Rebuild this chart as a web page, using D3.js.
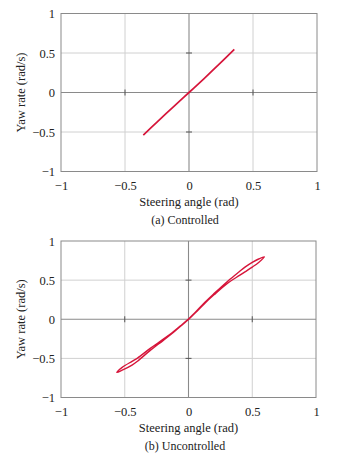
<!DOCTYPE html>
<html><head><meta charset="utf-8">
<script src="https://cdn.jsdelivr.net/npm/d3@7"></script>
<style>body{margin:0;background:#fff;} svg{display:block;}</style>
</head><body>
<svg id="c" width="342" height="461"></svg>
<script>
const tickValues = [-1, -0.5, 0, 0.5, 1];
const xLabel = "Steering angle (rad)";
const yLabel = "Yaw rate (rad/s)";
const captions = ["(a) Controlled", "(b) Uncontrolled"];

// (a) Controlled: steering angle vs yaw rate
const ctrlSteer = [-0.357, -0.25, -0.12, 0, 0.12, 0.25, 0.354];
const ctrlYaw   = [-0.54, -0.375, -0.178, 0, 0.180, 0.38, 0.545];

// (b) Uncontrolled: loop (going up, then coming back)
const uncSteer = [-0.562,-0.52,-0.443,-0.40,-0.30,-0.20,-0.129,-0.05,0,0.05,0.129,0.20,0.312,0.40,0.443,0.50,0.55,0.595,
                  0.55,0.50,0.443,0.40,0.312,0.20,0.129,0.05,0,-0.05,-0.129,-0.20,-0.30,-0.40,-0.443,-0.52];
const uncYaw   = [-0.680,-0.651,-0.586,-0.536,-0.398,-0.273,-0.183,-0.072,-0.004,0.076,0.206,0.312,0.467,0.560,0.606,0.667,0.726,0.797,
                  0.770,0.727,0.666,0.610,0.493,0.328,0.218,0.082,0.004,-0.066,-0.173,-0.257,-0.372,-0.496,-0.538,-0.615];

const svg = d3.select("#c");
const FONT = "'Liberation Serif', 'Times New Roman', serif";
const RED = "#d6153a";
const FS = 12.5;

function panel(cfg) {
  const x = d3.scaleLinear().domain([-1, 1]).range([cfg.left, cfg.right]);
  const y = d3.scaleLinear().domain([-1, 1]).range([cfg.bottom, cfg.top]);
  const g = svg.append("g");
  g.selectAll(".gx").data([-0.5, 0.5]).enter().append("line")
    .attr("x1", d => x(d)).attr("x2", d => x(d)).attr("y1", y(-1)).attr("y2", y(1))
    .attr("stroke", "#d0d0d0").attr("stroke-width", 1);
  g.selectAll(".gy").data([-0.5, 0.5]).enter().append("line")
    .attr("y1", d => y(d)).attr("y2", d => y(d)).attr("x1", x(-1)).attr("x2", x(1))
    .attr("stroke", "#d0d0d0").attr("stroke-width", 1);
  g.append("line").attr("x1", x(0)).attr("x2", x(0)).attr("y1", y(-1)).attr("y2", y(1))
    .attr("stroke", "#8a8a8a").attr("stroke-width", 1.1);
  g.append("line").attr("y1", y(0)).attr("y2", y(0)).attr("x1", x(-1)).attr("x2", x(1))
    .attr("stroke", "#8a8a8a").attr("stroke-width", 1.1);
  [-0.5, 0.5].forEach(v => {
    g.append("line").attr("x1", x(0) - 3).attr("x2", x(0) + 3).attr("y1", y(v)).attr("y2", y(v))
      .attr("stroke", "#555").attr("stroke-width", 1);
    g.append("line").attr("y1", y(0) - 3).attr("y2", y(0) + 3).attr("x1", x(v)).attr("x2", x(v))
      .attr("stroke", "#555").attr("stroke-width", 1);
  });
  g.append("rect").attr("x", x(-1)).attr("y", y(1)).attr("width", x(1) - x(-1)).attr("height", y(-1) - y(1))
    .attr("fill", "none").attr("stroke", "#8a8a8a").attr("stroke-width", 1);
  const fmt = d => d3.format("")(d).replace("-", "\u2212");
  const xa = g.append("g").attr("transform", `translate(0,${y(-1)})`)
    .call(d3.axisBottom(x).tickValues(tickValues).tickSize(0).tickPadding(cfg.pad).tickFormat(fmt));
  const ya = g.append("g").attr("transform", `translate(${x(-1)},0)`)
    .call(d3.axisLeft(y).tickValues(tickValues).tickSize(0).tickPadding(6).tickFormat(fmt));
  [xa, ya].forEach(a => {
    a.select(".domain").remove();
    a.selectAll("text").attr("font-family", FONT).attr("font-size", FS).attr("fill", "#222");
  });
  g.append("text").attr("x", (x(-1) + x(1)) / 2).attr("y", cfg.xLabelY)
    .attr("text-anchor", "middle").attr("font-family", FONT).attr("font-size", FS).attr("fill", "#222")
    .text(xLabel);
  g.append("text").attr("transform", `translate(21,${y(0)}) rotate(-90)`)
    .attr("text-anchor", "middle").attr("dy", "0.35em").attr("font-family", FONT).attr("font-size", FS).attr("fill", "#222")
    .text(yLabel);
  g.append("text").attr("x", cfg.capX).attr("y", cfg.capY)
    .attr("text-anchor", "middle").attr("font-family", FONT).attr("font-size", 12).attr("fill", "#222")
    .text(cfg.caption);
  const pts = cfg.xs.map((v, i) => [v, cfg.ys[i]]);
  const line = d3.line().x(d => x(d[0])).y(d => y(d[1]))
    .curve(cfg.closed ? d3.curveCatmullRomClosed : d3.curveCatmullRom);
  g.append("path").attr("d", line(pts)).attr("fill", "none").attr("stroke", RED)
    .attr("stroke-width", cfg.sw).attr("stroke-linejoin", "round");
}

panel({left: 61, right: 317, top: 13.5, bottom: 171.5, pad: 10, xLabelY: 205.5, capX: 185, capY: 224,
       caption: captions[0], xs: ctrlSteer, ys: ctrlYaw, closed: false, sw: 1.7});
panel({left: 61, right: 316, top: 241, bottom: 397.5, pad: 9.5, xLabelY: 431.5, capX: 185, capY: 450,
       caption: captions[1], xs: uncSteer, ys: uncYaw, closed: true, sw: 1.4});
</script>
</body></html>
